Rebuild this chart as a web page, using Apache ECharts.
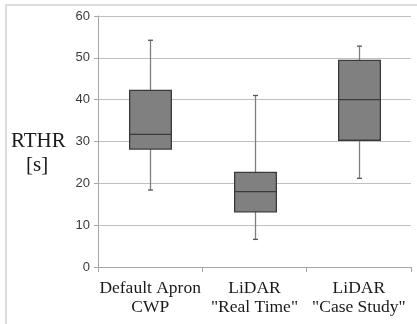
<!DOCTYPE html>
<html>
<head>
<meta charset="utf-8">
<script src="https://cdn.jsdelivr.net/npm/echarts@6/dist/echarts.min.js"></script>
<style>
  html, body { margin: 0; padding: 0; background: #fff; }
  #main { width: 417px; height: 324px; }
</style>
</head>
<body>
<div id="main"></div>
<script>
// categories and box stats
var categories = ['Default Apron\nCWP', 'LiDAR\n"Real Time"', 'LiDAR\n"Case Study"'];
var mins    = [18.4, 6.6, 21.2];
var q1s     = [28.2, 13.2, 30.3];
var medians = [31.7, 18.0, 40.0];
var q3s     = [42.2, 22.6, 49.4];
var maxs    = [54.2, 41.0, 52.8];
var yTicks  = [0, 10, 20, 30, 40, 50, 60];

var boxData = [];
for (var i = 0; i < categories.length; i++) {
    boxData.push([i, mins[i], q1s[i], medians[i], q3s[i], maxs[i]]);
}

var chart = echarts.init(document.getElementById('main'));

function renderBox(params, api) {
    var idx = api.value(0);
    var pMin = api.coord([idx, api.value(1)]);
    var pQ1 = api.coord([idx, api.value(2)]);
    var pMed = api.coord([idx, api.value(3)]);
    var pQ3 = api.coord([idx, api.value(4)]);
    var pMax = api.coord([idx, api.value(5)]);
    var x = Math.round(pMed[0]) + 0.5;
    var halfW = api.size([1, 0])[0] * 0.2;
    var cap = 2.5;
    var whisker = { stroke: '#7f7f7f', lineWidth: 1.3 };
    var edge = { stroke: '#3a3a3a', lineWidth: 1.3 };
    return {
        type: 'group',
        children: [
            { type: 'line', shape: { x1: x, y1: pMin[1], x2: x, y2: pMax[1] }, style: whisker },
            { type: 'line', shape: { x1: x - cap, y1: pMin[1], x2: x + cap, y2: pMin[1] }, style: { stroke: '#555', lineWidth: 1.3 } },
            { type: 'line', shape: { x1: x - cap, y1: pMax[1], x2: x + cap, y2: pMax[1] }, style: { stroke: '#555', lineWidth: 1.3 } },
            { type: 'rect', shape: { x: x - halfW, y: pQ3[1], width: halfW * 2, height: pQ1[1] - pQ3[1] },
              style: { fill: '#808080', stroke: '#3a3a3a', lineWidth: 1.3 } },
            { type: 'line', shape: { x1: x - halfW, y1: pMed[1], x2: x + halfW, y2: pMed[1] }, style: edge }
        ]
    };
}

var option = {
    backgroundColor: '#fff',
    animation: false,
    grid: { left: 98, right: 6, top: 16, bottom: 57 },
    graphic: [
        { type: 'rect', shape: { x: 6, y: 5, width: 430, height: 340 },
          style: { fill: 'none', stroke: '#dcdcdc', lineWidth: 2 }, silent: true },
        { type: 'text', left: 11, top: 131,
          style: { text: 'RTHR', font: '21px "Liberation Serif"', fill: '#1a1a1a' } },
        { type: 'text', left: 26, top: 155,
          style: { text: '[s]', font: '21px "Liberation Serif"', fill: '#1a1a1a' } }
    ],
    xAxis: {
        type: 'category',
        data: categories,
        boundaryGap: true,
        axisLine: { lineStyle: { color: '#a6a6a6', width: 1 } },
        axisTick: { show: true, length: 5, lineStyle: { color: '#a6a6a6' } },
        axisLabel: {
            interval: 0,
            margin: 12,
            fontFamily: 'Liberation Serif',
            fontSize: 17.5,
            lineHeight: 19,
            color: '#1a1a1a'
        }
    },
    yAxis: {
        type: 'value',
        min: yTicks[0],
        max: yTicks[yTicks.length - 1],
        interval: 10,
        axisLine: { show: true, lineStyle: { color: '#a6a6a6', width: 1 } },
        axisTick: { show: true, length: 4, lineStyle: { color: '#a6a6a6' } },
        splitLine: { lineStyle: { color: '#bfbfbf', width: 1 } },
        axisLabel: {
            margin: 8,
            fontFamily: 'Liberation Sans',
            fontSize: 13,
            color: '#3a3a3a'
        }
    },
    series: [{
        type: 'custom',
        renderItem: renderBox,
        encode: { x: 0, y: [1, 2, 3, 4, 5] },
        data: boxData,
        z: 3
    }]
};

chart.setOption(option);
</script>
</body>
</html>
